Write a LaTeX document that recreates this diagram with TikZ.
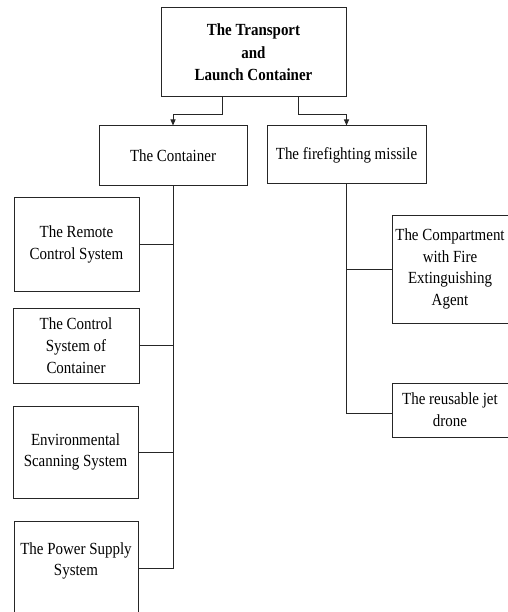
\documentclass[tikz,border=0pt]{standalone}
\usepackage{fontspec}
\setmainfont{Liberation Serif}[FakeStretch=0.88]
\usetikzlibrary{arrows.meta}
\begin{document}
\begin{tikzpicture}[x=1pt,y=-1pt,
  box/.style={draw=black!85, line width=1pt, rectangle, inner sep=0pt, align=center,
    font=\fontsize{17}{21.7}\selectfont},
  conn/.style={draw=black!85, line width=1pt},
  arr/.style={conn, -{Triangle[length=6pt,width=5pt]}}]
\useasboundingbox (0,0) rectangle (507,612);
% top
\node[box, minimum width=185pt, minimum height=89pt, font=\fontsize{17}{22.5}\selectfont\bfseries] (title) at (253.5,52.5) {The Transport\\and\\Launch Container};
\node[box, minimum width=148pt, minimum height=60pt] (container) at (173,156) {The Container};
\node[box, minimum width=159pt, minimum height=58pt] (missile) at (346.5,155) {The firefighting missile};
% left column
\node[box, minimum width=125pt, minimum height=93pt] (remote) at (76.5,244.5) {The Remote\\Control System};
\node[box, minimum width=126pt, minimum height=75pt] (control) at (76,345.5) {The Control\\System of\\Container};
\node[box, minimum width=125pt, minimum height=92pt] (env) at (75.5,452) {Environmental\\Scanning System};
\node[box, minimum width=124pt, minimum height=95pt,
  label={[align=center, font=\fontsize{17}{21.7}\selectfont, yshift=7.5pt]center:{The Power Supply\\System}}] (power) at (76,568.5) {};
% right column
\node[box, minimum width=116pt, minimum height=108pt] (comp) at (450,269) {The Compartment\\with Fire\\Extinguishing\\Agent};
\node[box, minimum width=116pt, minimum height=54pt] (reuse) at (450,410) {The reusable jet\\drone};
% arrows
\coordinate (j1) at (222,115);
\coordinate (j2) at (298,115);
\draw[arr] (title.south -| j1) -- (j1) -| (container.north);
\draw[arr] (title.south -| j2) -- (j2) -| (missile.north);
% left trunk
\draw[conn] (container.south) |- (power.east);
\draw[conn] (container.south |- remote.east) -- (remote.east);
\draw[conn] (container.south |- control.east) -- (control.east);
\draw[conn] (container.south |- env.east) -- (env.east);
% right trunk
\coordinate (r2) at (346.5,413);
\draw[conn] (missile.south) -- (r2) -- (r2 -| reuse.west);
\draw[conn] (missile.south |- comp.west) -- (comp.west);
\end{tikzpicture}
\end{document}
